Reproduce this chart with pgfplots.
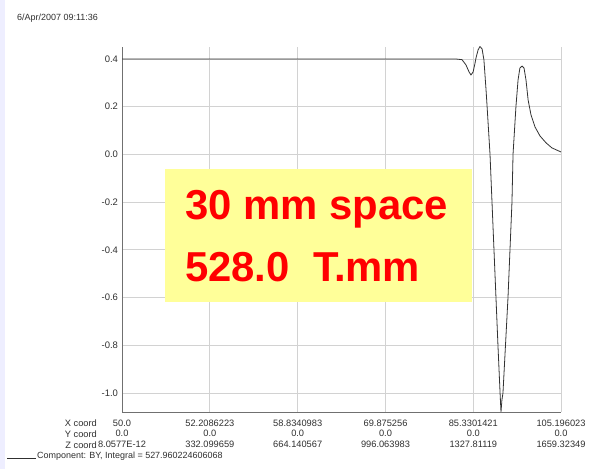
\documentclass[border=0pt]{standalone}
\usepackage{pgfplots}
\pgfplotsset{compat=1.18}
\usepackage{fontspec}
\setmainfont{Liberation Sans}
\definecolor{lav}{HTML}{EEEEFF}
\definecolor{gridc}{HTML}{D2D2D2}
\definecolor{axc}{HTML}{707070}
\definecolor{txt}{HTML}{303030}
\definecolor{boxy}{HTML}{FFFF99}
\begin{document}
\begin{tikzpicture}
\useasboundingbox (0,0) rectangle (616bp,469bp);
\fill[white] (0,0) rectangle (616bp,469bp);
\fill[lav] (0,0) rectangle (5bp,469bp);
\begin{axis}[
  at={(122bp,57bp)}, anchor=south west,
  scale only axis, width=439bp, height=365bp,
  xmin=0, xmax=1659.32349, ymin=-1.08, ymax=0.45,
  axis x line*=bottom, axis y line*=left,
  axis line style={axc, line width=0.8bp},
  grid=major, major grid style={gridc, line width=0.8bp},
  major tick length=0pt,
  xtick={8.0577E-12,332.099659,664.140567,996.063983,1327.81119,1659.32349},
  xticklabels={{50.0\\0.0\\8.0577E-12},{52.2086223\\0.0\\332.099659},{58.8340983\\0.0\\664.140567},{69.875256\\0.0\\996.063983},{85.3301421\\0.0\\1327.81119},{105.196023\\0.0\\1659.32349}},
  xticklabel style={align=center, font=\fontsize{9.3}{10.5}\selectfont, text=txt, yshift=-4.5bp},
  ytick={-1.0,-0.8,-0.6,-0.4,-0.2,0.0,0.2,0.4},
  yticklabel style={font=\fontsize{9.5}{10}\selectfont, text=txt, xshift=-0.5bp},
  /pgf/number format/assume math mode=true,
  /pgf/number format/.cd, fixed, fixed zerofill, precision=1,
]
\addplot[black!80, line width=0.8bp] table {
x y
0 0.4
1259 0.4
1285 0.397
1300 0.375
1312 0.345
1319 0.333
1327 0.345
1334 0.380
1338 0.404
1346 0.438
1353 0.452
1361 0.442
1368 0.396
1376 0.27
1380 0.2
1391 0.0
1406 -0.4
1421 -0.8
1429 -1.0
1432.5 -1.08
1436 -1.03
1440 -1.0
1459 -0.6
1474 -0.2
1478 0.0
1489 0.2
1497 0.312
1504 0.362
1512 0.37
1519.5 0.362
1527 0.312
1535 0.228
1546 0.165
1561 0.115
1580 0.077
1603 0.048
1625 0.027
1659.32 0.01
};
\end{axis}
\fill[boxy] (165bp,167bp) rectangle (472bp,300bp);
\node[anchor=base west, inner sep=0pt, text=red, font=\fontsize{42}{42}\selectfont\bfseries] at (185bp,249bp) {30 mm space};
\node[anchor=base west, inner sep=0pt, text=red, font=\fontsize{42}{42}\selectfont\bfseries] at (185bp,187bp) {528.0\ \ T.mm};
\node[anchor=base west, inner sep=0pt, text=txt, font=\fontsize{9}{10}\selectfont] at (17bp,448bp) {6/Apr/2007 09:11:36};
\node[anchor=base east, inner sep=0pt, text=txt, font=\fontsize{9.3}{10}\selectfont] at (97bp,42bp) {X coord};
\node[anchor=base east, inner sep=0pt, text=txt, font=\fontsize{9.3}{10}\selectfont] at (97bp,31.5bp) {Y coord};
\node[anchor=base east, inner sep=0pt, text=txt, font=\fontsize{9.3}{10}\selectfont] at (97bp,21bp) {Z coord};
\draw[txt, line width=0.6bp] (7bp,11bp) -- (36bp,11bp);
\node[anchor=base west, inner sep=0pt, text=txt, font=\fontsize{9}{10}\selectfont] at (37bp,11bp) {Component: BY, Integral = 527.960224606068};
\end{tikzpicture}
\end{document}
